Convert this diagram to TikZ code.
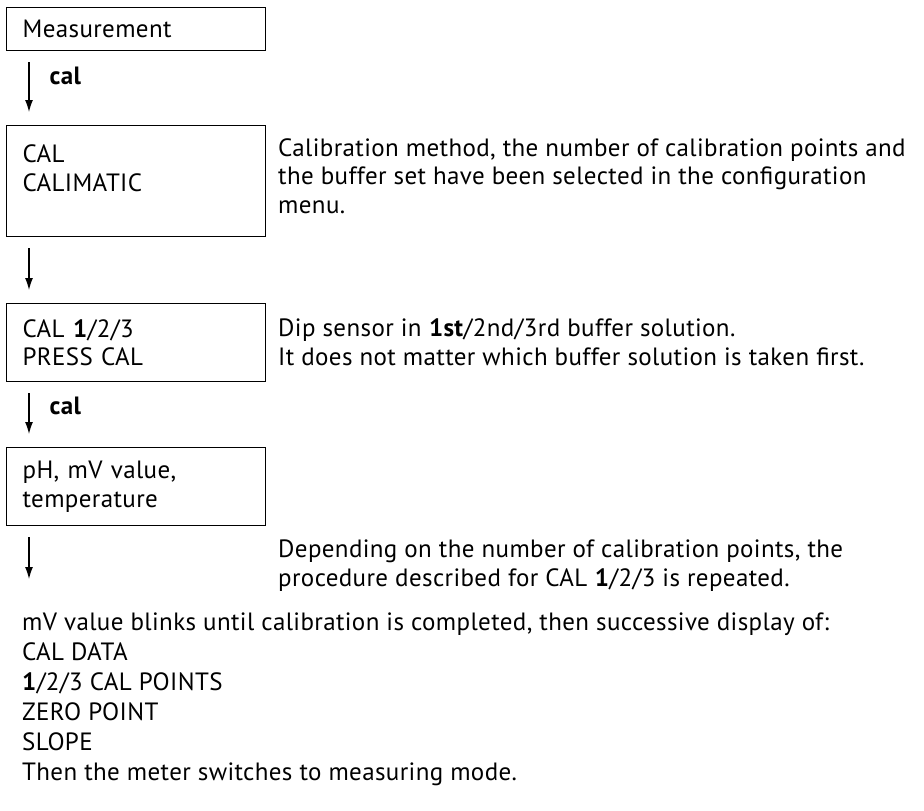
\documentclass[tikz,border=0pt]{standalone}
\usepackage{fontspec}
\setmainfont[LetterSpace=1.5]{PT Sans}
\usetikzlibrary{positioning, calc, arrows.meta}

\begin{document}
\begin{tikzpicture}[x=1pt, y=1pt,
        every node/.style={font=\fontsize{25}{28.5}\selectfont, inner sep=0pt},
        box/.style={draw, line width=1.2pt, anchor=north west, minimum width=259pt, text width=227pt, inner xsep=16pt, align=left},
        desc/.style={anchor=base west, align=left},
        keylabel/.style={anchor=west, font=\fontsize{25}{28.5}\selectfont\bfseries},
        flow/.style={line width=1.2pt, -{Latex[length=12pt, width=8pt]}, shorten <=11pt, shorten >=13pt}]
        \useasboundingbox (0,0) rectangle (924,-811);

        % Boxes
        \node[box, minimum height=43pt] (meas) at (6,-7) {Measurement};
        \node[box, minimum height=111pt] (calsel) at (6,-125) {CAL\\CALIMATIC\\[-2pt]\mbox{}};
        \node[box, minimum height=78pt] (calpt) at (6,-303) {CAL \textbf{1}/2/3\\PRESS CAL};
        \node[box, minimum height=78pt] (reading) at (6,-447) {pH, mV value,\\temperature};
        \coordinate (next) at (29,-579);

        % Arrows
        \draw[flow] ([xshift=23pt]meas.south west) -- ([xshift=23pt]calsel.north west)
                node[keylabel, pos=0.33, xshift=20pt] (key1) {cal};
        \draw[flow] ([xshift=23pt]calsel.south west) -- ([xshift=23pt]calpt.north west);
        \draw[flow] ([xshift=23pt]calpt.south west) -- ([xshift=23pt]reading.north west)
                node[keylabel, pos=0.36, xshift=20pt] (key2) {cal};
        \draw[flow, shorten >=0pt] ([xshift=23pt]reading.south west) -- (next);

        % Notes (anchored at the baseline of their last line)
        \node[desc] (note1) at (278,-213) {Calibration method, the number of calibration points and\\the buffer set have been selected in the configuration\\menu.};
        \node[desc] (note2) at (278,-365) {Dip sensor in \textbf{1st}/2nd/3rd buffer solution.\\It does not matter which buffer solution is taken first.};
        \node[desc] (note3) at (278,-586) {Depending on the number of calibration points, the\\procedure described for CAL \textbf{1}/2/3 is repeated.};
        \node[desc, font=\fontsize{25}{30}\selectfont] (final) at (22,-780) {mV value blinks until calibration is completed, then successive display of:\\CAL DATA\\\textbf{1}/2/3 CAL POINTS\\ZERO POINT\\SLOPE\\Then the meter switches to measuring mode.};
\end{tikzpicture}
\end{document}
